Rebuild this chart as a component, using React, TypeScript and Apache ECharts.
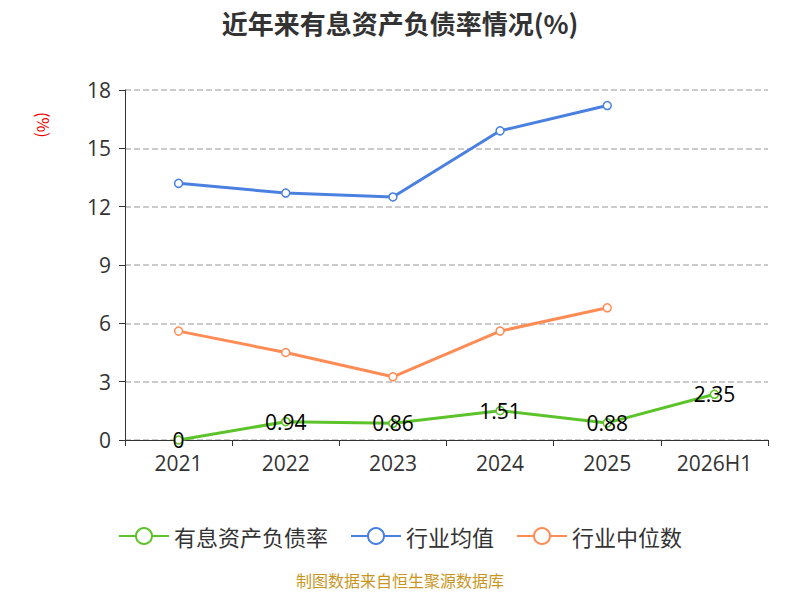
import React, { useEffect, useRef } from "react";
import * as echarts from "echarts";

const categories = ["2021", "2022", "2023", "2024", "2025", "2026H1"];
const debtRatio = [0, 0.94, 0.86, 1.51, 0.88, 2.35];
const industryAvg = [13.2, 12.7, 12.5, 15.9, 17.2, null];
const industryMedian = [5.6, 4.5, 3.25, 5.6, 6.8, null];

export default function App() {
  const ref = useRef<HTMLDivElement>(null);
  useEffect(() => {
    const chart = echarts.init(ref.current!, null, { renderer: "svg" });
    const font = "Noto Sans CJK SC";
    chart.setOption({
      animation: false,
      textStyle: { fontFamily: font },
      title: {
        text: "近年来有息资产负债率情况(%)",
        left: "center",
        top: 4,
        textStyle: { fontSize: 26, fontWeight: "bold", color: "#333", fontFamily: font },
      },
      grid: { left: 125, right: 32, top: 90, bottom: 160 },
      legend: {
        bottom: 48,
        itemWidth: 50,
        itemHeight: 20,
        itemGap: 22,
        textStyle: { fontSize: 22, color: "#333" },
        data: ["有息资产负债率", "行业均值", "行业中位数"],
      },
      graphic: [
        {
          type: "text",
          left: "center",
          top: 572,
          style: { text: "制图数据来自恒生聚源数据库", fill: "#c8961e", fontSize: 16, fontFamily: font },
        },
        {
          type: "text",
          x: 52,
          y: 112,
          rotation: -Math.PI / 2,
          style: { text: "(%)", fill: "#e00", fontSize: 16, fontFamily: font },
        },
      ],
      xAxis: {
        type: "category",
        data: categories,
        axisLine: { lineStyle: { color: "#333" } },
        axisTick: { show: true, length: 6, lineStyle: { color: "#333" } },
        axisLabel: { fontSize: 21, color: "#333", margin: 12, fontFamily: "Open Sans" },
      },
      yAxis: {
        type: "value",
        min: 0,
        max: 18,
        interval: 3,
        axisLine: { show: true, lineStyle: { color: "#333" } },
        axisTick: { show: true, length: 6, lineStyle: { color: "#333" } },
        axisLabel: { fontSize: 21, color: "#333", margin: 14, fontFamily: "Open Sans" },
        splitLine: { lineStyle: { type: "dashed", color: "#bbb", width: 1.5 } },
      },
      series: [
        {
          name: "有息资产负债率",
          type: "line",
          data: debtRatio,
          color: "#5cc32a",
          symbol: "circle",
          symbolSize: 8,
          itemStyle: { color: "#fff", borderColor: "#5cc32a", borderWidth: 1.5 },
          lineStyle: { width: 3, color: "#5cc32a" },
          label: { show: true, position: "inside", fontSize: 21, color: "#000", fontFamily: "Open Sans" },
          z: 3,
        },
        {
          name: "行业均值",
          type: "line",
          data: industryAvg,
          color: "#4a80e0",
          symbol: "circle",
          symbolSize: 8,
          itemStyle: { color: "#fff", borderColor: "#4a80e0", borderWidth: 1.5 },
          lineStyle: { width: 3, color: "#4a80e0" },
        },
        {
          name: "行业中位数",
          type: "line",
          data: industryMedian,
          color: "#ff8c55",
          symbol: "circle",
          symbolSize: 8,
          itemStyle: { color: "#fff", borderColor: "#ff8c55", borderWidth: 1.5 },
          lineStyle: { width: 3, color: "#ff8c55" },
        },
      ],
    });
    return () => chart.dispose();
  }, []);
  return <div ref={ref} style={{ width: 800, height: 600, margin: -8 }} />;
}
